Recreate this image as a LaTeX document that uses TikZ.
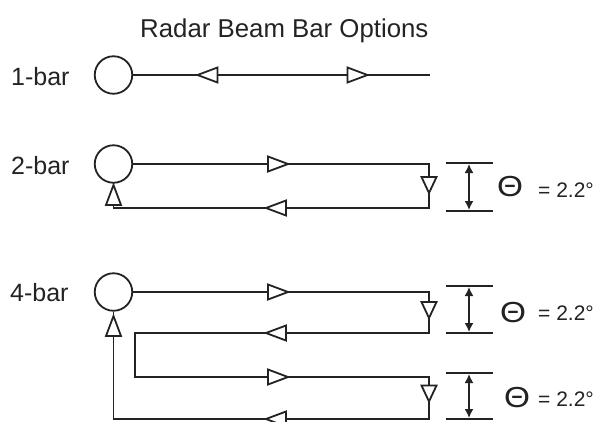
\documentclass[tikz,border=0pt]{standalone}
\usepackage{fontspec}
\setmainfont{Liberation Sans}
\usetikzlibrary{arrows.meta}
\definecolor{ink}{RGB}{35,35,35}
\begin{document}
\begin{tikzpicture}[x=1pt,y=-1pt,
  radar/.style={circle, draw=ink, line width=1.8pt, minimum size=37.5pt, inner sep=0pt},
  beam/.style={draw=ink, line width=1.8pt, line join=miter},
  dimline/.style={draw=ink, line width=1.8pt},
  dimarrow/.style={draw=ink, line width=1.6pt, {Latex[length=9pt,width=9pt]}-{Latex[length=9pt,width=9pt]}},
  lbl/.style={anchor=base west, inner sep=0pt, text=ink, font=\fontsize{25}{30}\selectfont},
  ttl/.style={anchor=base west, inner sep=0pt, text=ink, font=\fontsize{25.8}{30}\selectfont},
  theta/.style={anchor=center, inner sep=0pt, text=ink, font=\fontsize{29}{32}\selectfont, xscale=1.15, transform shape},
  val/.style={anchor=base west, inner sep=0pt, text=ink, font=\fontsize{21}{24}\selectfont},
  tri/.pic={\draw[draw=ink, fill=white, line width=1.8pt, line join=miter] (10,0) -- (-10,7.5) -- (-10,-7.5) -- cycle;},
  trid/.pic={\draw[draw=ink, fill=white, line width=1.8pt, line join=miter] (8,0) -- (-8,7.5) -- (-8,-7.5) -- cycle;}
]
\useasboundingbox[fill=white] (0,0) rectangle (601,421);

% title
\node[ttl] (title) at (140,37) {Radar Beam Bar Options};

% labels
\node[lbl] (l1) at (11,85) {1-bar};
\node[lbl] (l2) at (11,174) {2-bar};
\node[lbl] (l4) at (10,301) {4-bar};

% 1-bar
\node[radar] (c1) at (113.5,75) {};
\coordinate (e1) at (430,75);
\draw[beam] (c1) -- (e1);
\pic[rotate=180] at (207.5,75) {tri};
\pic at (357.5,75) {tri};

% 2-bar
\node[radar] (c2) at (113.5,164) {};
\coordinate (a2) at (429,164);
\coordinate (b2) at (429,208);
\coordinate (f2) at (113.5,208);
\draw[beam] (c2.east) -- (a2) -- (b2) -- (f2) -- (c2.south);
\pic at (278,164) {tri};
\pic[rotate=-90] at (429,185) {trid};
\pic[rotate=180] at (276,208) {tri};
\pic[rotate=90] at (113.5,195) {tri};

% 4-bar
\node[radar] (c4) at (113.5,292) {};
\coordinate (a4) at (429,292);
\coordinate (b4) at (429,333);
\coordinate (g4) at (135,333);
\coordinate (h4) at (135,377);
\coordinate (i4) at (429,377);
\coordinate (j4) at (429,419);
\coordinate (f4) at (113.5,419);
\draw[beam] (c4.east) -- (a4) -- (b4) -- (g4) -- (h4) -- (i4) -- (j4) -- (f4) -- (c4.south);
\pic at (278,292) {tri};
\pic[rotate=-90] at (429,310) {trid};
\pic[rotate=180] at (276,333) {tri};
\pic at (278,377) {tri};
\pic[rotate=-90] at (429,393.5) {trid};
\pic[rotate=180] at (276,419) {tri};
\pic[rotate=90] at (113.5,326) {tri};

% dimension marks 2-bar
\coordinate (d2tl) at (446,163); \coordinate (d2tr) at (493,163);
\coordinate (d2bl) at (446,211); \coordinate (d2br) at (493,211);
\coordinate (d2at) at (469,164); \coordinate (d2ab) at (469,210);
\draw[dimline] (d2tl) -- (d2tr);
\draw[dimline] (d2bl) -- (d2br);
\draw[dimarrow] (d2at) -- (d2ab);
\node[theta] (th2) at (510,187) {Θ};
\node[val] (v2) at (538,197) {= 2.2°};

% dimension marks 4-bar (first)
\coordinate (d4tl) at (446,286); \coordinate (d4tr) at (493,286);
\coordinate (d4bl) at (446,333); \coordinate (d4br) at (493,333);
\coordinate (d4at) at (469,287); \coordinate (d4ab) at (469,332);
\draw[dimline] (d4tl) -- (d4tr);
\draw[dimline] (d4bl) -- (d4br);
\draw[dimarrow] (d4at) -- (d4ab);
\node[theta] (th4a) at (513,313) {Θ};
\node[val] (v4a) at (538,320) {= 2.2°};

% dimension marks 4-bar (second)
\coordinate (d5tl) at (446,373); \coordinate (d5tr) at (493,373);
\coordinate (d5bl) at (446,419); \coordinate (d5br) at (493,419);
\coordinate (d5at) at (469,374); \coordinate (d5ab) at (469,418);
\draw[dimline] (d5tl) -- (d5tr);
\draw[dimline] (d5bl) -- (d5br);
\draw[dimarrow] (d5at) -- (d5ab);
\node[theta] (th4b) at (517,398) {Θ};
\node[val] (v4b) at (538,406) {= 2.2°};
\end{tikzpicture}
\end{document}
